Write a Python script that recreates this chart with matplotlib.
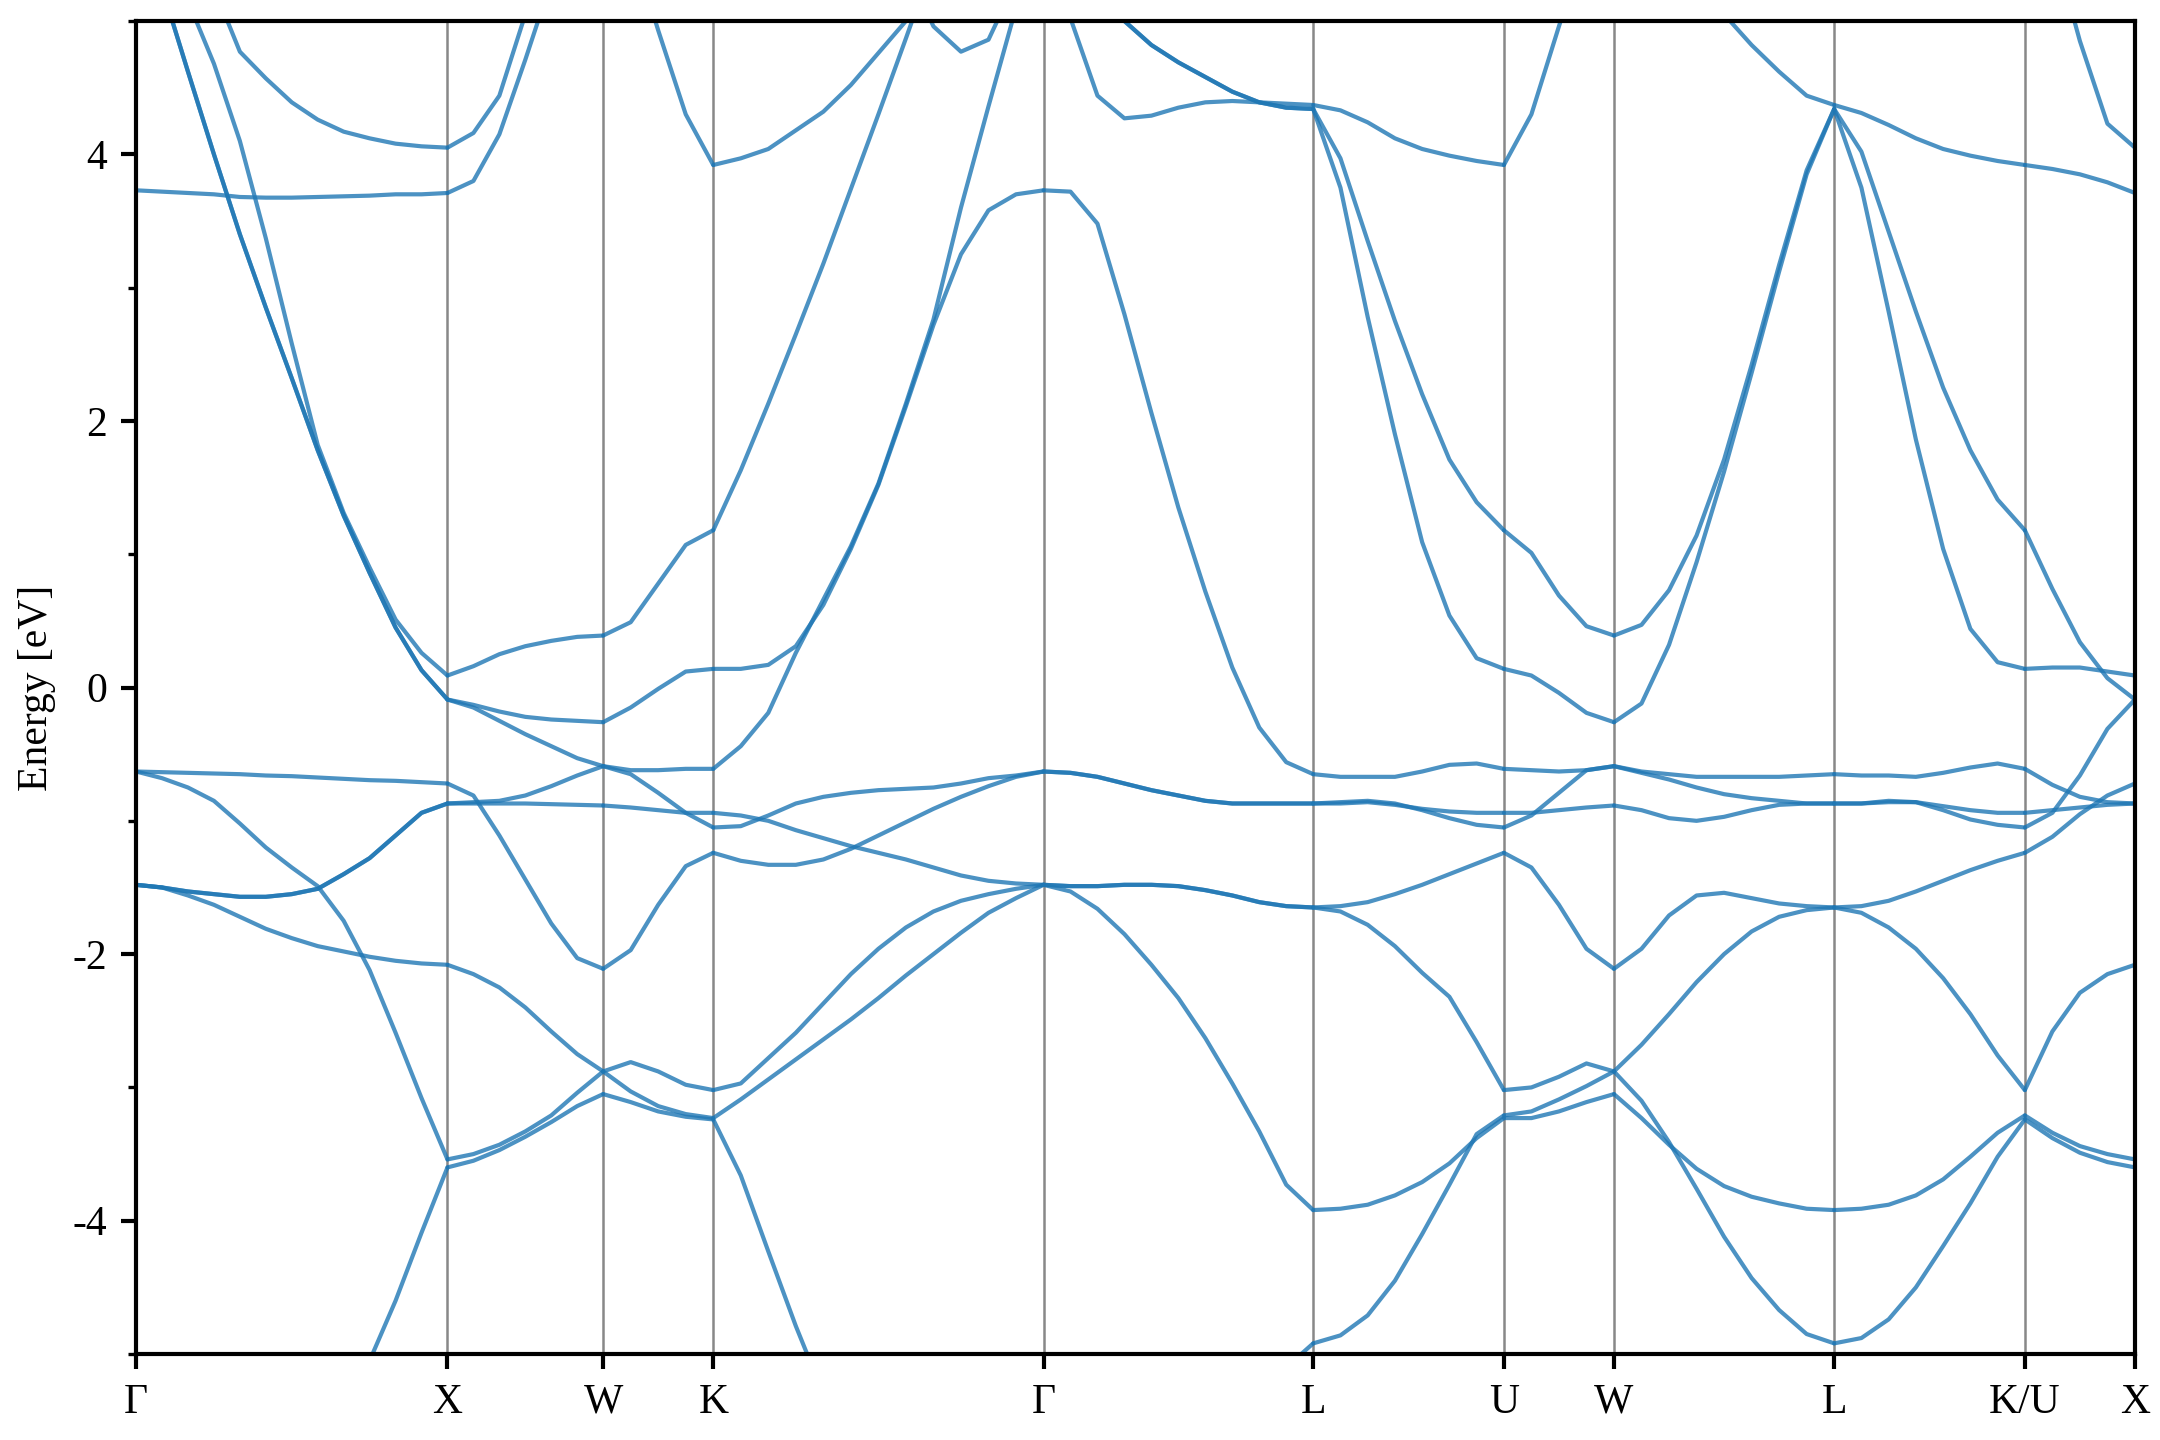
import numpy as np
import matplotlib
matplotlib.use("Agg")
import matplotlib.pyplot as plt
from matplotlib.ticker import MultipleLocator

plt.rcParams['font.family'] = ['Liberation Serif', 'DejaVu Serif']
plt.rcParams['axes.unicode_minus'] = False

# high-symmetry path
labels = ["Γ", "X", "W", "K", "Γ", "L", "U", "W", "L", "K/U", "X"]
seg_lengths = [1.0, 0.5, 0.35355, 1.06066, 0.86603, 0.61237, 0.35355, 0.70711, 0.61237, 0.35355]

# band energies (eV) sampled evenly along each path segment
bands_GX = [
    [-9.0, -8.7, -8.3, -7.9, -7.4, -6.9, -6.4, -5.95, -5.5, -5.05, -4.6, -4.09, -3.60],
    [-1.48, -1.50, -1.56, -1.63, -1.72, -1.81, -1.88, -1.94, -1.98, -2.02, -2.05, -2.07, -2.08],
    [-1.48, -1.50, -1.53, -1.55, -1.57, -1.57, -1.55, -1.51, -1.40, -1.28, -1.11, -0.94, -0.87],
    [-1.48, -1.50, -1.53, -1.55, -1.57, -1.57, -1.55, -1.51, -1.40, -1.28, -1.11, -0.94, -0.87],
    [-0.63, -0.68, -0.75, -0.85, -1.02, -1.20, -1.35, -1.49, -1.75, -2.12, -2.59, -3.08, -3.54],
    [-0.63, -0.635, -0.64, -0.645, -0.65, -0.66, -0.665, -0.675, -0.685, -0.695, -0.70, -0.71, -0.72],
    [5.9, 5.25, 4.62, 4.00, 3.40, 2.85, 2.32, 1.78, 1.29, 0.86, 0.45, 0.13, -0.09],
    [5.9, 5.25, 4.62, 4.00, 3.40, 2.85, 2.32, 1.78, 1.29, 0.86, 0.45, 0.13, -0.09],
    [6.4, 5.9, 5.15, 4.68, 4.10, 3.37, 2.58, 1.82, 1.31, 0.90, 0.51, 0.26, 0.09],
    [3.73, 3.72, 3.71, 3.70, 3.68, 3.675, 3.675, 3.68, 3.685, 3.69, 3.70, 3.70, 3.71],
    [6.2, 5.9, 5.6, 5.25, 4.77, 4.57, 4.39, 4.26, 4.17, 4.12, 4.08, 4.06, 4.05],
]

bands_XW = [
    [-3.54, -3.50, -3.43, -3.33, -3.21, -3.04, -2.88],
    [-3.60, -3.55, -3.47, -3.37, -3.26, -3.14, -3.05],
    [-2.08, -2.15, -2.25, -2.40, -2.58, -2.75, -2.88],
    [-0.72, -0.81, -1.11, -1.44, -1.77, -2.03, -2.11],
    [-0.87, -0.87, -0.87, -0.87, -0.875, -0.88, -0.885],
    [-0.87, -0.86, -0.85, -0.81, -0.74, -0.66, -0.59],
    [-0.09, -0.13, -0.18, -0.22, -0.24, -0.25, -0.26],
    [-0.09, -0.15, -0.25, -0.35, -0.44, -0.53, -0.59],
    [0.09, 0.16, 0.25, 0.31, 0.35, 0.38, 0.39],
    [3.71, 3.80, 4.15, 4.71, 5.3, 5.9, 6.5],
    [4.05, 4.16, 4.44, 5.05, 5.6, 6.2, 6.8],
]

bands_WK = [
    [-3.05, -3.11, -3.18, -3.22, -3.24],
    [-2.88, -3.03, -3.14, -3.20, -3.23],
    [-2.88, -2.81, -2.88, -2.98, -3.02],
    [-2.11, -1.97, -1.63, -1.34, -1.24],
    [-0.885, -0.90, -0.92, -0.94, -0.94],
    [-0.59, -0.65, -0.79, -0.94, -1.05],
    [-0.59, -0.62, -0.62, -0.61, -0.61],
    [-0.26, -0.15, -0.01, 0.12, 0.14],
    [0.39, 0.49, 0.78, 1.07, 1.18],
    [6.5, 5.6, 4.93, 4.30, 3.92],
]

bands_KG = [
    [-3.24, -3.66, -4.23, -4.79, -5.3, -5.8, -6.3, -6.8, -7.2, -7.6, -7.9, -8.0, -8.0],
    [-3.23, -3.09, -2.94, -2.79, -2.64, -2.49, -2.33, -2.16, -2.00, -1.84, -1.69, -1.58, -1.48],
    [-3.02, -2.97, -2.78, -2.59, -2.37, -2.15, -1.96, -1.80, -1.68, -1.60, -1.55, -1.51, -1.48],
    [-0.94, -0.96, -1.00, -1.07, -1.13, -1.19, -1.24, -1.29, -1.35, -1.41, -1.45, -1.47, -1.48],
    [-1.24, -1.30, -1.33, -1.33, -1.29, -1.21, -1.11, -1.01, -0.91, -0.82, -0.74, -0.67, -0.63],
    [-1.05, -1.04, -0.96, -0.87, -0.82, -0.79, -0.77, -0.76, -0.75, -0.72, -0.68, -0.66, -0.63],
    [-0.61, -0.44, -0.19, 0.26, 0.66, 1.06, 1.53, 2.13, 2.76, 3.60, 4.36, 5.1, 5.6],
    [0.14, 0.14, 0.17, 0.31, 0.62, 1.04, 1.52, 2.11, 2.72, 3.25, 3.58, 3.70, 3.73],
    [1.18, 1.63, 2.13, 2.65, 3.18, 3.74, 4.30, 4.87, 5.45, 6.0, 6.5, 6.9, 7.2],
    [3.92, 3.97, 4.04, 4.18, 4.32, 4.52, 4.76, 5.0, 5.3, 5.6, 5.9, 6.2, 6.5],
    [6.5, 6.3, 6.1, 5.9, 5.8, 5.7, 5.6, 5.4, 4.96, 4.77, 4.86, 5.3, 5.7],
]

bands_GL = [
    [-8.0, -7.8, -7.5, -7.2, -6.9, -6.6, -6.2, -5.9, -5.55, -5.1, -4.92],
    [-1.48, -1.53, -1.66, -1.85, -2.08, -2.33, -2.63, -2.97, -3.33, -3.73, -3.92],
    [-1.48, -1.49, -1.49, -1.48, -1.48, -1.49, -1.52, -1.56, -1.61, -1.64, -1.65],
    [-1.48, -1.49, -1.49, -1.48, -1.48, -1.49, -1.52, -1.56, -1.61, -1.64, -1.65],
    [-0.63, -0.64, -0.67, -0.72, -0.77, -0.81, -0.85, -0.87, -0.87, -0.87, -0.87],
    [-0.63, -0.64, -0.67, -0.72, -0.77, -0.81, -0.85, -0.87, -0.87, -0.87, -0.87],
    [3.73, 3.72, 3.48, 2.80, 2.06, 1.35, 0.72, 0.15, -0.30, -0.56, -0.65],
    [5.7, 5.02, 4.44, 4.27, 4.29, 4.35, 4.39, 4.40, 4.39, 4.38, 4.37],
    [6.5, 6.0, 5.4, 5.0, 4.82, 4.69, 4.58, 4.47, 4.39, 4.35, 4.34],
    [6.5, 6.0, 5.4, 5.0, 4.82, 4.69, 4.58, 4.47, 4.39, 4.35, 4.34],
]

bands_LU = [
    [-4.92, -4.86, -4.71, -4.45, -4.10, -3.73, -3.35, -3.21],
    [-3.92, -3.91, -3.88, -3.81, -3.71, -3.57, -3.38, -3.23],
    [-1.65, -1.68, -1.78, -1.94, -2.14, -2.32, -2.66, -3.02],
    [-1.65, -1.64, -1.61, -1.55, -1.48, -1.40, -1.32, -1.24],
    [-0.87, -0.86, -0.85, -0.87, -0.92, -0.98, -1.03, -1.05],
    [-0.87, -0.87, -0.86, -0.88, -0.91, -0.93, -0.94, -0.94],
    [-0.65, -0.67, -0.67, -0.67, -0.63, -0.58, -0.57, -0.61],
    [4.34, 3.75, 2.78, 1.90, 1.09, 0.54, 0.22, 0.14],
    [4.34, 3.97, 3.35, 2.75, 2.20, 1.71, 1.39, 1.18],
    [4.37, 4.33, 4.24, 4.12, 4.04, 3.99, 3.95, 3.92],
]

bands_UW = [
    [-3.23, -3.23, -3.18, -3.11, -3.05],
    [-3.21, -3.18, -3.09, -2.99, -2.88],
    [-3.02, -3.00, -2.92, -2.82, -2.88],
    [-1.24, -1.35, -1.63, -1.96, -2.11],
    [-1.05, -0.96, -0.79, -0.62, -0.59],
    [-0.94, -0.94, -0.92, -0.90, -0.885],
    [-0.61, -0.62, -0.63, -0.62, -0.59],
    [0.14, 0.09, -0.04, -0.19, -0.26],
    [1.18, 1.01, 0.69, 0.46, 0.39],
    [3.92, 4.30, 4.96, 5.6, 6.2],
]

bands_WL = [
    [-2.88, -3.10, -3.41, -3.76, -4.12, -4.43, -4.67, -4.85, -4.92],
    [-3.05, -3.23, -3.43, -3.61, -3.74, -3.82, -3.87, -3.91, -3.92],
    [-2.88, -2.68, -2.45, -2.21, -2.00, -1.83, -1.72, -1.67, -1.65],
    [-2.11, -1.96, -1.71, -1.56, -1.54, -1.58, -1.62, -1.64, -1.65],
    [-0.885, -0.92, -0.98, -1.00, -0.97, -0.92, -0.88, -0.87, -0.87],
    [-0.59, -0.64, -0.69, -0.75, -0.80, -0.83, -0.85, -0.87, -0.87],
    [-0.59, -0.63, -0.65, -0.67, -0.67, -0.67, -0.67, -0.66, -0.65],
    [-0.26, -0.12, 0.32, 0.94, 1.62, 2.36, 3.12, 3.85, 4.34],
    [0.39, 0.47, 0.73, 1.14, 1.71, 2.42, 3.17, 3.88, 4.34],
    [6.4, 6.1, 5.8, 5.4, 5.05, 4.82, 4.62, 4.44, 4.37],
]

bands_LK = [
    [-4.92, -4.88, -4.74, -4.50, -4.19, -3.87, -3.52, -3.24],
    [-3.92, -3.91, -3.88, -3.81, -3.69, -3.52, -3.34, -3.21],
    [-1.65, -1.69, -1.80, -1.96, -2.18, -2.45, -2.76, -3.02],
    [-1.65, -1.64, -1.60, -1.53, -1.45, -1.37, -1.30, -1.24],
    [-0.87, -0.87, -0.85, -0.86, -0.92, -0.99, -1.03, -1.05],
    [-0.87, -0.87, -0.86, -0.86, -0.89, -0.92, -0.94, -0.94],
    [-0.65, -0.66, -0.66, -0.67, -0.64, -0.60, -0.57, -0.61],
    [4.34, 3.75, 2.82, 1.86, 1.04, 0.44, 0.19, 0.14],
    [4.34, 4.02, 3.42, 2.82, 2.25, 1.78, 1.41, 1.18],
    [4.37, 4.31, 4.22, 4.12, 4.04, 3.99, 3.95, 3.92],
]

bands_UX = [
    [-3.24, -3.38, -3.49, -3.56, -3.60],
    [-3.21, -3.34, -3.44, -3.50, -3.54],
    [-3.02, -2.58, -2.29, -2.15, -2.08],
    [-1.24, -1.12, -0.95, -0.81, -0.72],
    [-1.05, -0.94, -0.66, -0.31, -0.09],
    [-0.94, -0.92, -0.90, -0.88, -0.87],
    [-0.61, -0.73, -0.82, -0.86, -0.87],
    [1.18, 0.74, 0.34, 0.07, -0.09],
    [0.14, 0.15, 0.15, 0.12, 0.09],
    [3.92, 3.89, 3.85, 3.79, 3.71],
    [6.5, 5.6, 4.85, 4.23, 4.05],
]

segments = [bands_GX, bands_XW, bands_WK, bands_KG, bands_GL,
            bands_LU, bands_UW, bands_WL, bands_LK, bands_UX]

kpos = np.concatenate([[0.0], np.cumsum(seg_lengths)])

fig = plt.figure(figsize=(7.2, 4.8), dpi=300)
ax = fig.add_axes([0.063, 0.0597, 0.9254, 0.9257])

for xk in kpos[1:-1]:
    ax.axvline(xk, color='0.45', lw=0.6, alpha=0.85, zorder=1)

for s, bands in enumerate(segments):
    for E in bands:
        k = np.linspace(kpos[s], kpos[s + 1], len(E))
        ax.plot(k, E, color='#1f77b4', alpha=0.8, lw=1.0,
                solid_joinstyle='round', solid_capstyle='round', zorder=2)

ax.set_xlim(kpos[0], kpos[-1])
ax.set_ylim(-5, 5)
ax.set_xticks(kpos)
ax.set_xticklabels(labels)
ax.set_yticks([-4, -2, 0, 2, 4])
ax.yaxis.set_minor_locator(MultipleLocator(1))
ax.set_ylabel("Energy [eV]", fontsize=10)
ax.tick_params(axis='both', which='major', direction='out', length=3.5, width=1.0, labelsize=10, pad=3.5)
ax.tick_params(axis='y', which='minor', direction='out', length=2.0, width=0.8)
for sp in ax.spines.values():
    sp.set_linewidth(1.0)

fig.savefig("out.png", dpi=300)
